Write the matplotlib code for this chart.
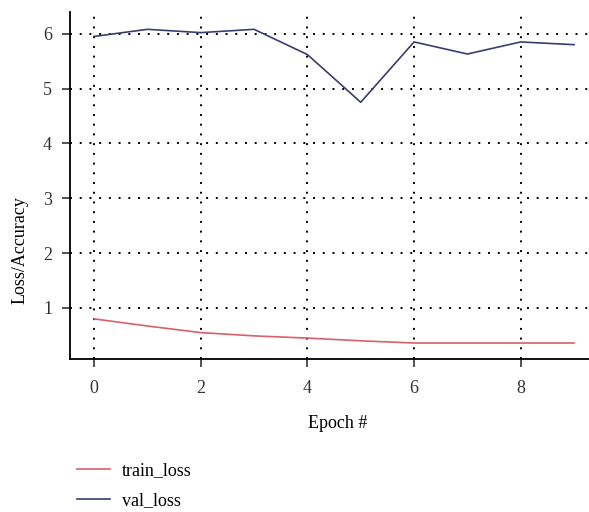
import matplotlib
matplotlib.use('Agg')
import matplotlib.pyplot as plt

plt.rcParams['font.family'] = ['Liberation Serif', 'DejaVu Serif']

epochs = [0, 1, 2, 3, 4, 5, 6, 7, 8, 9]
train_loss = [0.80, 0.67, 0.55, 0.49, 0.45, 0.40, 0.36, 0.36, 0.36, 0.36]
val_loss = [5.95, 6.08, 6.02, 6.08, 5.62, 4.75, 5.85, 5.63, 5.85, 5.80]

fig = plt.figure(figsize=(5.89, 5.12), dpi=100)
ax = fig.add_axes([0.119, 0.299, 0.881, 0.678])

ax.plot(epochs, train_loss, color='#d9606a', linewidth=1.2, label='train_loss')
ax.plot(epochs, val_loss, color='#3b3d6e', linewidth=1.2, label='val_loss')

ax.set_xlim(-0.45, 9.28)
ax.set_ylim(0.07, 6.4)
ax.set_xticks([0, 2, 4, 6, 8])
ax.set_yticks([1, 2, 3, 4, 5, 6])
ax.grid(True, color='black', linestyle=(0, (1, 4)), linewidth=1.4)
ax.set_axisbelow(True)

for s in ['top', 'right']:
    ax.spines[s].set_visible(False)
ax.spines['left'].set_linewidth(1.3)
ax.spines['bottom'].set_linewidth(1.3)
ax.tick_params(direction='out', length=6, width=1.2, labelsize=13, colors='#333333')
ax.tick_params(axis='x', pad=9)
ax.tick_params(axis='y', pad=7)

ax.set_xlabel('Epoch #', fontsize=13)
ax.xaxis.set_label_coords(0.515, -0.163)
ax.set_ylabel('Loss/Accuracy', fontsize=13)
ax.yaxis.set_label_coords(-0.08, 0.314)

fig.legend(loc='upper left', bbox_to_anchor=(0.131, 0.098), frameon=False,
           fontsize=13, handlelength=1.8, handletextpad=0.7, labelspacing=0.75,
           borderpad=0, borderaxespad=0)

fig.savefig('out.png', dpi=100)
